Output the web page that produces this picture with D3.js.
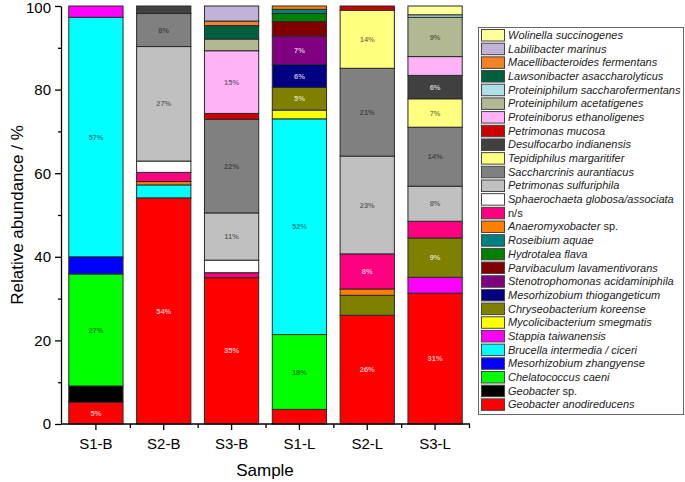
<!DOCTYPE html>
<html>
<head>
<meta charset="utf-8">
<script src="https://cdn.jsdelivr.net/npm/d3@7/dist/d3.min.js"></script>
<style>
  body { margin: 0; background: #fff; }
  svg { display: block; font-family: "Liberation Sans", Arial, sans-serif; }
</style>
</head>
<body>
<div id="chart"></div>
<script>
// samples on the x axis
var samples = ["S1-B", "S2-B", "S3-B", "S1-L", "S2-L", "S3-L"];

// species, stack order bottom -> top
var species = [
  "Geobacter anodireducens", "Geobacter sp.", "Chelatococcus caeni", "Mesorhizobium zhangyense",
  "Brucella intermedia / ciceri", "Stappia taiwanensis", "Mycolicibacterium smegmatis",
  "Chryseobacterium koreense", "Mesorhizobium thiogangeticum", "Stenotrophomonas acidaminiphila",
  "Parvibaculum lavamentivorans", "Hydrotalea flava", "Roseibium aquae", "Anaeromyxobacter sp.",
  "n/s", "Sphaerochaeta globosa/associata", "Petrimonas sulfuriphila", "Saccharcrinis aurantiacus",
  "Tepidiphilus margaritifer", "Desulfocarbo indianensis", "Petrimonas mucosa",
  "Proteiniborus ethanoligenes", "Proteiniphilum acetatigenes", "Proteiniphilum saccharofermentans",
  "Lawsonibacter asaccharolyticus", "Macellibacteroides fermentans", "Labilibacter marinus",
  "Wolinella succinogenes"
];

// relative abundance (%) per sample, same order as species
var s1B = [5.2, 3.9, 26.8, 4.1, 57.3, 2.7, 0, 0, 0, 0, 0, 0, 0, 0, 0, 0, 0, 0, 0, 0, 0, 0, 0, 0, 0, 0, 0, 0];
var s2B = [54.1, 0, 0, 0, 3.1, 0, 0, 0, 0, 0, 0, 0, 0, 0.8, 2.2, 2.7, 27.4, 7.9, 0, 1.8, 0, 0, 0, 0, 0, 0, 0, 0];
var s3B = [35.0, 0, 0, 0, 0, 0, 0, 0, 0, 0, 0, 0, 0, 0, 1.2, 3.0, 11.3, 22.4, 0, 0, 1.4, 15.0, 2.8, 0, 3.2, 1.1, 3.6, 0];
var s1L = [3.5, 0, 17.9, 0, 51.6, 0, 2.1, 5.4, 5.5, 6.8, 3.5, 1.9, 1.0, 0.8, 0, 0, 0, 0, 0, 0, 0, 0, 0, 0, 0, 0, 0, 0];
var s2L = [26.0, 0, 0, 0, 0, 0, 0, 4.8, 0, 0, 0, 0, 0, 1.5, 8.4, 0, 23.4, 21.0, 13.9, 0, 1.0, 0, 0, 0, 0, 0, 0, 0];
var s3L = [31.3, 0, 0, 0, 0, 3.8, 0, 9.4, 0, 0, 0, 0, 0, 0, 4.0, 0, 8.4, 14.1, 6.8, 5.6, 0, 4.5, 9.4, 0.6, 0, 0, 0, 2.1];

var sampleValues = [s1B, s2B, s3B, s1L, s2L, s3L];

var yTicks = [0, 20, 40, 60, 80, 100];
var yMinorTicks = [10, 30, 50, 70, 90];

// fill colours, same order as species
var palette = [
  "#ff0000", "#000000", "#00ff00", "#0000ff", "#00ffff", "#ff00ff", "#ffff00", "#808000",
  "#000080", "#800080", "#800000", "#008000", "#008080", "#ff8000", "#ff0080", "#ffffff",
  "#c0c0c0", "#808080", "#ffff80", "#404040", "#cc0000", "#ffb3f7", "#b2b892", "#ade0e6",
  "#005f3f", "#f2822a", "#c0b2d8", "#ffff99"
];

var width = 685, height = 482;
var plot = {left: 61, right: 469, top: 6, bottom: 424};
var fontFam = "'Liberation Sans', Arial, sans-serif";

var svg = d3.select("#chart").append("svg")
    .attr("width", width)
    .attr("height", height);

var x = d3.scaleBand()
    .domain(samples)
    .range([plot.left + 1, plot.right])
    .paddingInner(0.2)
    .paddingOuter(0.1);

var y = d3.scaleLinear()
    .domain([0, 100])
    .range([plot.bottom, plot.top]);

// build stacked rows
var rows = samples.map(function(s, i) {
    var r = {sample: s};
    species.forEach(function(sp, j) { r[sp] = sampleValues[i][j]; });
    return r;
});
var stacked = d3.stack().keys(species)(rows);

var bars = svg.append("g").attr("class", "bars");
var layer = bars.selectAll("g.layer")
    .data(stacked)
    .enter().append("g")
    .attr("class", "layer")
    .attr("fill", function(d, i) { return palette[i]; });

layer.selectAll("rect")
    .data(function(d) { return d.filter(function(p) { return p[1] - p[0] > 0; }); })
    .enter().append("rect")
    .attr("x", function(d) { return x(d.data.sample); })
    .attr("y", function(d) { return y(d[1]); })
    .attr("width", x.bandwidth())
    .attr("height", function(d) { return y(d[0]) - y(d[1]); })
    .attr("stroke", "#2a2a2a")
    .attr("stroke-width", 1);

// percent labels on the big segments
function isLight(c) {
    var rgb = d3.rgb(c);
    return (0.299 * rgb.r + 0.587 * rgb.g + 0.114 * rgb.b) / 255 > 0.47;
}
stacked.forEach(function(ser, i) {
    ser.forEach(function(p) {
        var v = p[1] - p[0];
        if (v < 5) return;
        var light = isLight(palette[i]);
        bars.append("text")
            .attr("x", x(p.data.sample) + x.bandwidth() / 2)
            .attr("y", y((p[0] + p[1]) / 2))
            .attr("dy", "0.35em")
            .attr("text-anchor", "middle")
            .attr("font-family", fontFam)
            .attr("font-size", "7.5px")
            .attr("font-weight", "bold")
            .attr("fill", light ? "#000" : "#fff")
            .attr("fill-opacity", light ? 0.5 : 0.72)
            .text(Math.round(v) + "%");
    });
});

// axes
svg.append("g")
    .attr("class", "axis")
    .attr("transform", "translate(" + plot.left + ",0)")
    .call(d3.axisLeft(y).tickValues(yTicks).tickSize(6).tickSizeOuter(0).tickPadding(4));
svg.append("g")
    .attr("transform", "translate(" + plot.left + ",0)")
    .call(d3.axisLeft(y).tickValues(yMinorTicks).tickSize(3).tickFormat(""))
    .select(".domain").remove();

var xAxis = svg.append("g")
    .attr("class", "axis")
    .attr("transform", "translate(0," + plot.bottom + ")")
    .call(d3.axisBottom(x).tickSize(6).tickSizeOuter(0).tickPadding(8));
xAxis.select(".domain").attr("d", "M" + plot.left + ",0H" + (plot.right + 1));

var bounds = samples.map(function(s) { return x(s) + x.bandwidth() / 2 + x.step() / 2; });
svg.append("g")
    .attr("transform", "translate(0," + plot.bottom + ")")
    .call(d3.axisBottom(d3.scaleLinear().domain([0, width]).range([0, width]))
        .tickValues(bounds).tickSize(4).tickFormat(""))
    .select(".domain").remove();

svg.selectAll(".tick line, .domain").attr("stroke", "#000").attr("stroke-width", 1.3);
svg.selectAll(".axis text").attr("font-size", "15px").attr("fill", "#000")
    .attr("font-family", fontFam);
// keep the top label inside the picture
svg.selectAll(".axis .tick text").filter(function(d) { return d === 100; }).attr("dy", "0.42em");

svg.append("text")
    .attr("transform", "translate(17," + ((plot.top + plot.bottom) / 2) + ") rotate(-90)")
    .attr("text-anchor", "middle")
    .attr("dy", "0.35em")
    .attr("font-family", fontFam)
    .attr("font-size", "17px")
    .text("Relative abundance / %");

svg.append("text")
    .attr("x", (plot.left + plot.right) / 2)
    .attr("y", 476)
    .attr("text-anchor", "middle")
    .attr("font-family", fontFam)
    .attr("font-size", "17px")
    .text("Sample");

// legend
var legend = svg.append("g").attr("class", "legend");
legend.append("rect")
    .attr("x", 478.5).attr("y", 27.5)
    .attr("width", 205).attr("height", 387)
    .attr("fill", "#fff")
    .attr("stroke", "#666")
    .attr("stroke-width", 1);

var legendOrder = d3.range(species.length).reverse();
var rowH = 13.68;
var item = legend.selectAll("g.item")
    .data(legendOrder)
    .enter().append("g")
    .attr("class", "item")
    .attr("transform", function(d, k) { return "translate(481," + (35 + k * rowH) + ")"; });

item.append("rect")
    .attr("x", 0.5).attr("y", -5.5)
    .attr("width", 23).attr("height", 11.5)
    .attr("fill", function(d) { return palette[d]; })
    .attr("stroke", "#444")
    .attr("stroke-width", 1);

item.append("text")
    .attr("x", 27)
    .attr("dy", "0.36em")
    .attr("font-family", fontFam)
    .attr("font-size", "11px")
    .attr("fill", "#222")
    .each(function(d) {
        var name = species[d], t = d3.select(this);
        if (name === "n/s") {
            t.text(name);
        } else if (/ sp\.$/.test(name)) {
            t.append("tspan").attr("font-style", "italic").text(name.replace(/ sp\.$/, ""));
            t.append("tspan").text(" sp.");
        } else {
            t.attr("font-style", "italic").text(name);
        }
    });
</script>
</body>
</html>
